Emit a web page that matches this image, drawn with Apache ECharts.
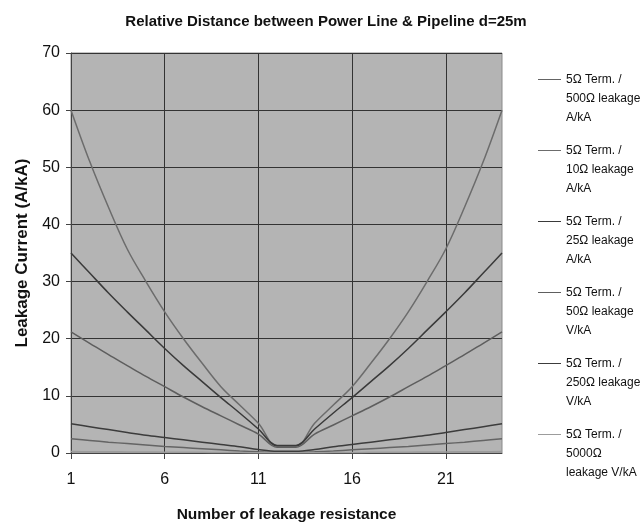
<!DOCTYPE html>
<html>
<head>
<meta charset="utf-8">
<script src="https://cdn.jsdelivr.net/npm/echarts@6/dist/echarts.min.js"></script>
<style>
  html, body { margin: 0; padding: 0; background: #fff; }
  #chart { width: 640px; height: 528px; }
</style>
</head>
<body>
<div id="chart"></div>
<script>
// number of leakage resistance 1..24
var positions = [];
for (var i = 1; i <= 24; i++) positions.push(String(i));

// left half (1..12), curves are symmetric about 12.5
var half500 = [2.5, 2.2, 1.9, 1.65, 1.4, 1.15, 0.95, 0.75, 0.55, 0.35, 0.2, 0.1];
var half10 = [60, 51, 43, 35.7, 30, 24.7, 20, 15.7, 11.6, 8.4, 5.2, 1.2];
var half25 = [35, 31.5, 28, 24.7, 21.5, 18.3, 15.3, 12.5, 9.7, 7, 4.2, 1.3];
var half50 = [21.2, 19.2, 17.2, 15.3, 13.4, 11.6, 9.8, 8.1, 6.5, 4.9, 3.3, 1.0];
var half250 = [5.1, 4.6, 4.1, 3.6, 3.1, 2.7, 2.3, 1.9, 1.5, 1.1, 0.6, 0.3];
var half5000 = [0.25, 0.23, 0.21, 0.19, 0.17, 0.15, 0.13, 0.11, 0.09, 0.07, 0.05, 0.04];

function mirror(h) {
    return h.concat(h.slice().reverse());
}

var seriesNames = [
    '5Ω Term. /\n500Ω leakage\nA/kA',
    '5Ω Term. /\n10Ω leakage\nA/kA',
    '5Ω Term. /\n25Ω leakage\nA/kA',
    '5Ω Term. /\n50Ω leakage\nV/kA',
    '5Ω Term. /\n250Ω leakage\nV/kA',
    '5Ω Term. /\n5000Ω\nleakage V/kA'
];
var seriesData = [half500, half10, half25, half50, half250, half5000].map(mirror);
var seriesColors = ['#646464', '#6c6c6c', '#3a3a3a', '#5e5e5e', '#3c3c3c', '#9c9c9c'];

var font = '"Liberation Sans", Arial, sans-serif';

var chartDom = document.getElementById('chart');
var myChart = echarts.init(chartDom);

var series = seriesNames.map(function (name, k) {
    return {
        name: name,
        type: 'line',
        data: seriesData[k],
        symbol: 'none',
        smooth: 0.35,
        lineStyle: { color: seriesColors[k], width: 1.5 },
        itemStyle: { color: seriesColors[k] },
        z: 3
    };
});

var option = {
    animation: false,
    backgroundColor: '#fff',
    textStyle: { fontFamily: font },
    title: {
        text: 'Relative Distance between Power Line & Pipeline d=25m',
        left: 321,
        textAlign: 'center',
        top: 9,
        textStyle: { fontFamily: font, fontSize: 15, fontWeight: 'bold', color: '#111' }
    },
    legend: {
        orient: 'vertical',
        left: 533,
        top: 27,
        itemWidth: 23,
        itemHeight: 14,
        itemGap: -24,
        icon: 'path://M0,6.5L23,6.5L23,7.5L0,7.5Z',
        // two blank lines on top so the line sits beside the first text line
        formatter: function (name) { return '\n\n' + name; },
        textStyle: { fontFamily: font, fontSize: 12, lineHeight: 19, color: '#111' },
        data: seriesNames
    },
    grid: {
        left: 71,
        right: 138,
        top: 53,
        bottom: 75,
        show: true,
        backgroundColor: '#b4b4b4',
        borderColor: '#8a8a8a',
        borderWidth: 1
    },
    xAxis: {
        type: 'category',
        data: positions,
        boundaryGap: false,
        name: 'Number of leakage resistance',
        nameLocation: 'middle',
        nameGap: 54,
        nameTextStyle: { fontFamily: font, fontSize: 15.5, fontWeight: 'bold', color: '#111' },
        axisLine: { lineStyle: { color: '#444', width: 1 } },
        axisTick: { show: true, interval: 4, length: 6, lineStyle: { color: '#444' } },
        axisLabel: { interval: 4, margin: 19, fontSize: 16, color: '#111', fontFamily: font },
        splitLine: { show: true, interval: 4, lineStyle: { color: '#333', width: 1 } }
    },
    yAxis: {
        type: 'value',
        min: 0,
        max: 70,
        interval: 10,
        name: 'Leakage Current (A/kA)',
        nameLocation: 'middle',
        nameGap: 34,
        nameTextStyle: { fontFamily: font, fontSize: 17, fontWeight: 'bold', color: '#111' },
        axisLine: { show: true, lineStyle: { color: '#444', width: 1 } },
        axisTick: { show: true, length: 5, lineStyle: { color: '#444' } },
        axisLabel: { margin: 11, fontSize: 16, color: '#111', fontFamily: font },
        splitLine: { show: true, lineStyle: { color: '#333', width: 1 } }
    },
    series: series
};

option && myChart.setOption(option);
</script>
</body>
</html>
